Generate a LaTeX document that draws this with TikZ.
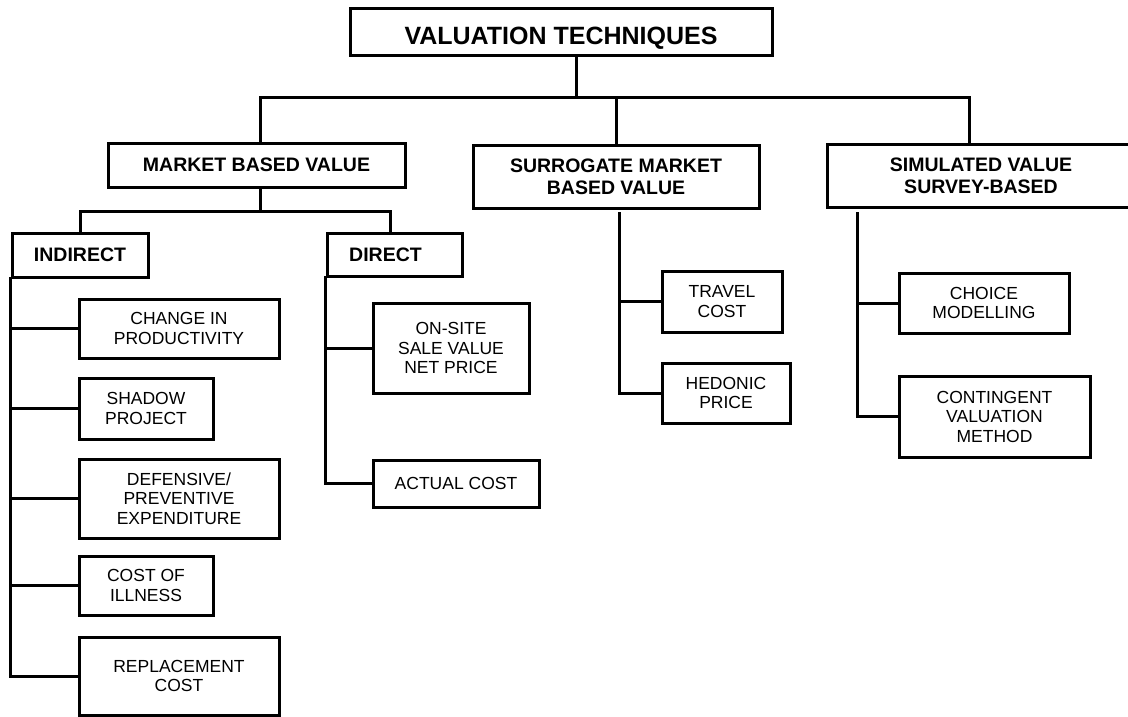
\documentclass[tikz,border=0pt]{standalone}
\usepackage{fontspec}
\setmainfont{Liberation Sans}
\tikzset{
	box/.style={draw, line width=3pt, inner sep=0pt, align=center, font=\fontsize{17.5}{19.5}\selectfont},
	head/.style={box, font=\bfseries\fontsize{19.5}{21.5}\selectfont},
	link/.style={line width=3pt, line cap=rect},
}
\begin{document}
\begin{tikzpicture}[x=1pt, y=-1pt]
	\useasboundingbox (0,0) rectangle (1128,716);
	\node[head, font=\bfseries\fontsize{25}{27}\selectfont, text height=25pt, text depth=0pt, minimum width=422pt, minimum height=47pt] (title) at (561,31.5) {VALUATION TECHNIQUES};
	\node[head, minimum width=297pt, minimum height=44pt] (market) at (256.5,165) {MARKET BASED VALUE};
	\node[head, minimum width=286pt, minimum height=63pt] (surr) at (616,177) {SURROGATE MARKET\\BASED VALUE};
	\node[head, minimum width=308pt, minimum height=63pt] (simul) at (981,176) {SIMULATED VALUE\\SURVEY-BASED};
	\node[head, minimum width=136pt, minimum height=44pt] (indirect) at (80,255) {INDIRECT};
	\node[head, minimum width=135pt, minimum height=43pt] (direct) at (394.5,254.5) {DIRECT\hspace{18pt}};
	\node[box, minimum width=200pt, minimum height=59pt] (change) at (179,328.5) {CHANGE IN\\PRODUCTIVITY};
	\node[box, minimum width=134pt, minimum height=61pt] (shadow) at (146,408.5) {SHADOW\\PROJECT};
	\node[box, minimum width=200pt, minimum height=79pt] (defens) at (179,498.5) {DEFENSIVE/\\PREVENTIVE\\EXPENDITURE};
	\node[box, minimum width=134pt, minimum height=59pt] (illness) at (146,585.5) {COST OF\\ILLNESS};
	\node[box, minimum width=200pt, minimum height=78pt] (replace) at (179,676) {REPLACEMENT\\COST};
	\node[box, minimum width=156pt, minimum height=90pt] (onsite) at (451,348) {ON-SITE\\SALE VALUE\\NET PRICE};
	\node[box, minimum width=166pt, minimum height=47pt] (actual) at (456,483.5) {ACTUAL COST};
	\node[box, minimum width=120pt, minimum height=61pt] (travel) at (722,301.5) {TRAVEL\\COST};
	\node[box, minimum width=128pt, minimum height=60pt] (hedonic) at (726,393) {HEDONIC\\PRICE};
	\node[box, minimum width=170pt, minimum height=60pt] (choice) at (984,303) {CHOICE\\MODELLING};
	\node[box, minimum width=191pt, minimum height=81pt] (conting) at (994.5,416.5) {CONTINGENT\\VALUATION\\METHOD};
	\coordinate (busL) at (260,97);
	\coordinate (busM) at (576,97);
	\coordinate (busR) at (969,97);
	\coordinate (subL) at (80,211);
	\coordinate (subR) at (390,211);
	\coordinate (surTop) at (619,213);
	\coordinate (simTop) at (857,213);
	\draw[link] (title.south -| busM) -- (busM);
	\draw[link] (busL) -- (busR);
	\draw[link] (busL) -- (busL |- market.north);
	\draw[link] (surr.north) -- (surr.north |- busL);
	\draw[link] (busR) -- (busR |- simul.north);
	\draw[link] (busL |- market.south) -- (busL |- subL);
	\draw[link] (subL) -- (subR);
	\draw[link] (subL) -- (indirect.north);
	\draw[link] (subR) -- (subR |- direct.north);
	\draw[link] (indirect.south west) -- (indirect.south west |- replace.west);
	\foreach \n in {change, shadow, defens, illness, replace}
		\draw[link] (indirect.south west |- \n.west) -- (\n.west);
	\draw[link] (direct.south west) -- (direct.south west |- actual.west);
	\foreach \n in {onsite, actual}
		\draw[link] (direct.south west |- \n.west) -- (\n.west);
	\draw[link] (surTop) -- (surTop |- hedonic.west);
	\foreach \n in {travel, hedonic}
		\draw[link] (surTop |- \n.west) -- (\n.west);
	\draw[link] (simTop) -- (simTop |- conting.west);
	\foreach \n in {choice, conting}
		\draw[link] (simTop |- \n.west) -- (\n.west);
\end{tikzpicture}
\end{document}
